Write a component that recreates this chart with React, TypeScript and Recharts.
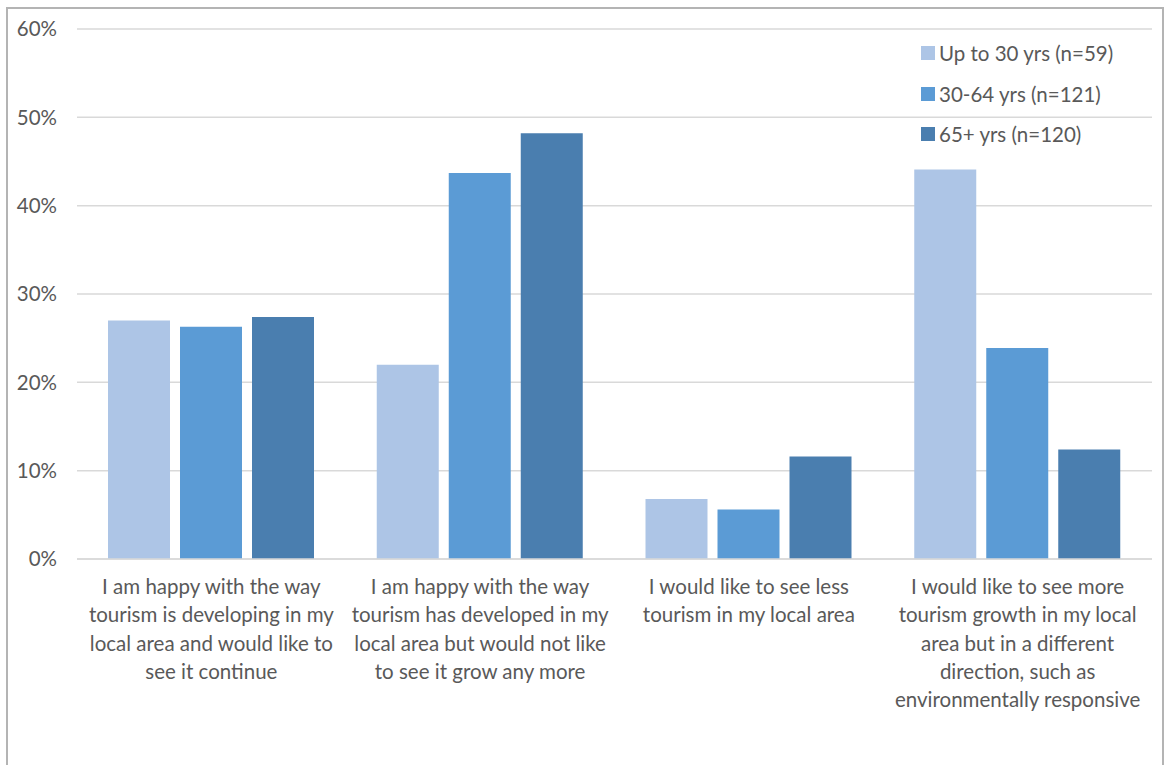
import React from 'react';
import { BarChart, Bar, XAxis, YAxis, CartesianGrid } from 'recharts';

// Survey answers, one group of bars per statement
const CATEGORIES = [
  'I am happy with the way\ntourism is developing in my\nlocal area and would like to\nsee it continue',
  'I am happy with the way\ntourism has developed in my\nlocal area but would not like\nto see it grow any more',
  'I would like to see less\ntourism in my local area',
  'I would like to see more\ntourism growth in my local\narea but in a different\ndirection, such as\nenvironmentally responsive',
];

const SERIES_NAMES = ['Up to 30 yrs (n=59)', '30-64 yrs (n=121)', '65+ yrs (n=120)'];
const SERIES_COLORS = ['#adc5e6', '#5b9bd5', '#4a7eaf'];

// percent of respondents in each age group
const UNDER_30 = [27.0, 22.0, 6.8, 44.1];
const AGE_30_64 = [26.3, 43.7, 5.6, 23.9];
const AGE_65_PLUS = [27.4, 48.2, 11.6, 12.4];

const Y_TICKS = [0, 10, 20, 30, 40, 50, 60];

const data = CATEGORIES.map((name, i) => ({
  name,
  s0: UNDER_30[i],
  s1: AGE_30_64[i],
  s2: AGE_65_PLUS[i],
}));

const FONT = 'Lato, "Open Sans", sans-serif';
const TEXT = '#595959';
const FS = 20.5;

function CategoryTick(props: any) {
  const { x, y, payload } = props;
  const lines = String(payload.value).split('\n');
  return (
    <text x={x} y={y} textAnchor="middle" fill={TEXT} fontSize={FS} fontFamily={FONT}>
      {lines.map((ln, i) => (
        <tspan key={i} x={x} dy={i === 0 ? 27 : 28.3}>{ln}</tspan>
      ))}
    </text>
  );
}

// legend sits inside the plot, top right, over the gridlines
function AgeLegend() {
  return (
    <div style={{ position: 'absolute', left: 921, top: 33, fontFamily: FONT, fontSize: FS, color: TEXT }}>
      {SERIES_NAMES.map((n, i) => (
        <div key={n} style={{ display: 'flex', alignItems: 'center', height: 40.5 }}>
          <span style={{ width: 14, height: 14, background: SERIES_COLORS[i], marginRight: 4, display: 'inline-block' }} />
          <span>{n}</span>
        </div>
      ))}
    </div>
  );
}

export default function App() {
  return (
    <div style={{ position: 'relative', width: 1173, height: 765, overflow: 'hidden', background: 'white' }}>
      <style>{'body{margin:0;overflow:hidden}'}</style>
      <div style={{
        position: 'absolute', left: 6, top: 7, width: 1158, height: 800,
        border: '2px solid #b4b4b4', boxSizing: 'border-box',
      }} />
      <div style={{ position: 'absolute', left: 0, top: 0 }}>
        <BarChart
          width={1173}
          height={765}
          data={data}
          margin={{ top: 29, right: 21, bottom: 0, left: 17 }}
          barSize={62}
          barGap={10}
        >
          <CartesianGrid vertical={false} stroke="#d9d9d9" strokeWidth={1.5} />
          <XAxis
            dataKey="name"
            height={206}
            interval={0}
            tickLine={false}
            axisLine={{ stroke: '#d9d9d9', strokeWidth: 1.5 }}
            tick={<CategoryTick />}
          />
          <YAxis
            width={60}
            domain={[0, 60]}
            ticks={Y_TICKS}
            tickLine={false}
            axisLine={false}
            tickMargin={14}
            tickFormatter={(v: number) => `${v}%`}
            tick={{ fill: TEXT, fontSize: FS, fontFamily: FONT }}
          />
          {SERIES_NAMES.map((n, i) => (
            <Bar key={n} dataKey={`s${i}`} name={n} fill={SERIES_COLORS[i]} isAnimationActive={false} />
          ))}
        </BarChart>
      </div>
      <AgeLegend />
    </div>
  );
}
